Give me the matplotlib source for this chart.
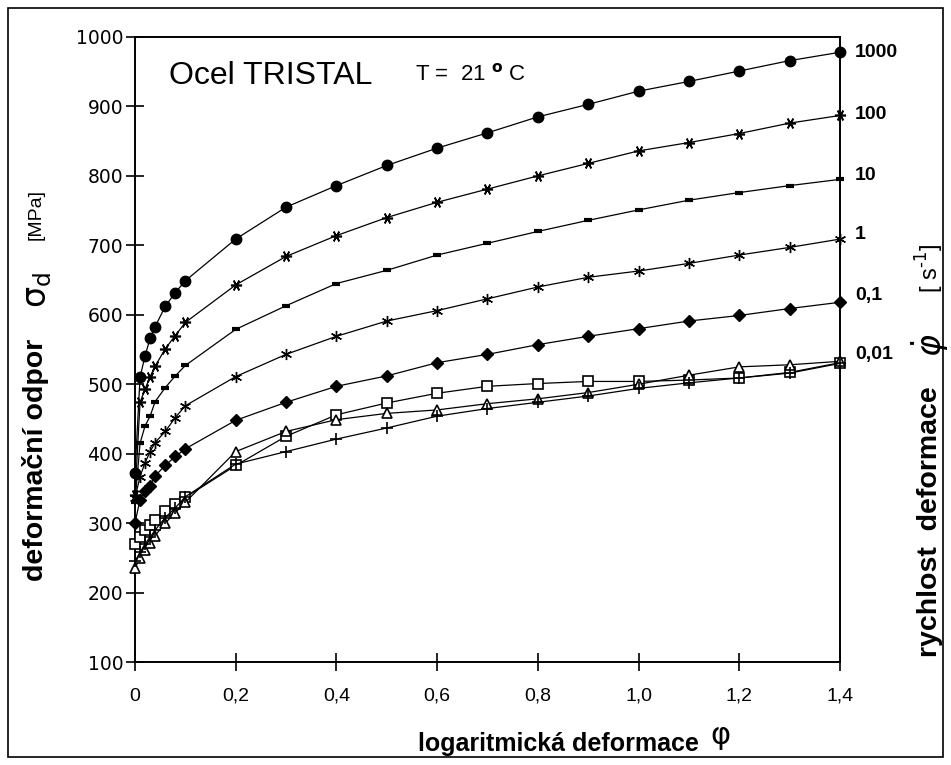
import matplotlib
matplotlib.use("Agg")
import matplotlib.pyplot as plt
from matplotlib import font_manager as fm
from matplotlib.patches import Rectangle

# ---------------- data ----------------
x_fine = [0, 0.01, 0.02, 0.03, 0.04, 0.06, 0.08, 0.1,
          0.2, 0.3, 0.4, 0.5, 0.6, 0.7, 0.8, 0.9, 1.0, 1.1, 1.2, 1.3, 1.4]

s_1000 = [372, 510, 541, 566, 583, 612, 632, 649, 709, 755, 786, 815, 840, 862, 885, 903, 922, 936, 951, 966, 978]
s_100 = [340, 474, 493, 511, 526, 551, 570, 589, 643, 684, 714, 740, 762, 781, 800, 818, 836, 848, 861, 876, 887]
s_10 = [330, 415, 440, 454, 475, 495, 512, 527, 579, 613, 645, 664, 686, 703, 720, 736, 751, 765, 776, 786, 795]
s_1 = [336, 367, 387, 403, 416, 432, 452, 469, 511, 543, 569, 591, 606, 623, 640, 654, 663, 674, 686, 697, 709]
s_01 = [300, 334, 346, 354, 368, 383, 396, 407, 448, 474, 497, 512, 531, 543, 557, 569, 580, 591, 599, 609, 618]
s_sq = [270, 280, 290, 297, 305, 318, 328, 337, 383, 425, 456, 473, 487, 497, 501, 504, 504, 506, 509, 517, 531]
s_tri = [235, 250, 262, 272, 282, 300, 315, 330, 403, 432, 449, 458, 463, 472, 479, 488, 500, 513, 525, 528, 533]
s_plus = [245, 258, 270, 280, 290, 308, 322, 338, 385, 403, 421, 437, 454, 465, 474, 483, 494, 502, 509, 516, 530]

rate_labels = ["1000", "100", "10", "1", "0,1", "0,01"]
rate_label_values = [978, 888, 801, 715, 628, 543]

x_ticks = [0, 0.2, 0.4, 0.6, 0.8, 1.0, 1.2, 1.4]
x_ticklabels = ["0", "0,2", "0,4", "0,6", "0,8", "1,0", "1,2", "1,4"]
y_ticks = [100, 200, 300, 400, 500, 600, 700, 800, 900, 1000]
y_ticklabels = ["100", "200", "300", "400", "500", "600", "700", "800", "900", "1000"]

# ---------------- fonts ----------------
names = {f.name for f in fm.fontManager.ttflist}
narrow = "Liberation Sans Narrow" if "Liberation Sans Narrow" in names else "Liberation Sans"
arial = "Liberation Sans"

W, H = 951, 765
fig = plt.figure(figsize=(W / 100, H / 100), dpi=100)
fig.patch.set_facecolor("white")

# outer frame
fig.add_artist(Rectangle((8 / W, 8 / H), (943 - 8) / W, (757 - 8) / H,
                         transform=fig.transFigure, fill=False, lw=1.2, ec="black"))

ax = fig.add_axes([135 / W, 1 - 662 / H, (840 - 135) / W, (662 - 37) / H])
ax.set_xlim(0, 1.4)
ax.set_ylim(100, 1000)

lw = 0.9
common = dict(color="black", lw=lw, clip_on=False, zorder=3)
ax.plot(x_fine, s_1000, marker="o", ms=7.5, mfc="black", mec="black", **common)
ax.plot(x_fine, s_100, marker=(6, 2, 90), ms=8, mew=1.2, **common)
ax.plot(x_fine, s_10, marker="_", ms=6, mew=3, **common)
ax.plot(x_fine, s_1, marker=(6, 2, 0), ms=8, mew=1.0, **common)
ax.plot(x_fine, s_01, marker="D", ms=6.5, mfc="black", mec="black", **common)
ax.plot(x_fine, s_sq, marker="s", ms=7, mfc="white", mec="black", mew=1.2, **common)
ax.plot(x_fine, s_tri, marker="^", ms=7.5, mfc="white", mec="black", mew=1.2, **common)
ax.plot(x_fine, s_plus, marker="+", ms=8, mew=1.2, **common)

for lab, v in zip(rate_labels, rate_label_values):
    ax.text(1.43, v, lab, fontsize=14, fontweight="bold", family=arial,
            ha="left", va="center")

# spines / ticks
for s in ax.spines.values():
    s.set_linewidth(1.4)
ax.tick_params(axis="both", which="both", direction="inout", length=13, width=1.2,
               right=False, top=False)
ax.set_xticks(x_ticks)
ax.set_xticklabels(x_ticklabels, family=narrow, fontsize=14)
ax.set_yticks(y_ticks)
ax.set_yticklabels(y_ticklabels, family="DejaVu Sans", fontsize=13.5)
ax.tick_params(axis="x", pad=12)
ax.tick_params(axis="y", pad=2)

# title inside
ax.text(0.068, 944, "Ocel TRISTAL", fontsize=23, family=arial, ha="left", va="center")
ax.text(0.556, 946, r"T =  21 $^{\mathbf{o}}$ C", fontsize=16, family=arial,
        ha="left", va="center")

# x label
fig.text(558 / W, 1 - 744 / H, "logaritmická deformace", fontsize=18, fontweight="bold",
         family=narrow, ha="center", va="center")
fig.text(720 / W, 1 - 736 / H, "φ", fontsize=22, family="DejaVu Sans",
         ha="center", va="center")

# left y label
fig.text(36 / W, 1 - 460 / H, "deformační odpor", fontsize=20.5, fontweight="bold",
         family=narrow, rotation=90, ha="center", va="center")
fig.text(38 / W, 1 - 290 / H, r"$\mathrm{\sigma}_{\mathrm{d}}$", fontsize=24, rotation=90,
         ha="center", va="center")
fig.text(36 / W, 1 - 215 / H, "[MPa]", fontsize=14, family=arial, rotation=90,
         ha="center", va="center")

# right label
fig.text(930 / W, 1 - 522 / H, "rychlost  deformace", fontsize=20.5, fontweight="bold",
         family=arial, rotation=90, ha="center", va="center")
fig.text(930 / W, 1 - 345 / H, r"$\dot{\varphi}$", fontsize=24, rotation=90,
         ha="center", va="center")
fig.text(930 / W, 1 - 268 / H, r"[ s$^{\text{-}1}$]", fontsize=17, family=arial, rotation=90,
         ha="center", va="center")

fig.savefig("out.png", dpi=100, facecolor="white")
